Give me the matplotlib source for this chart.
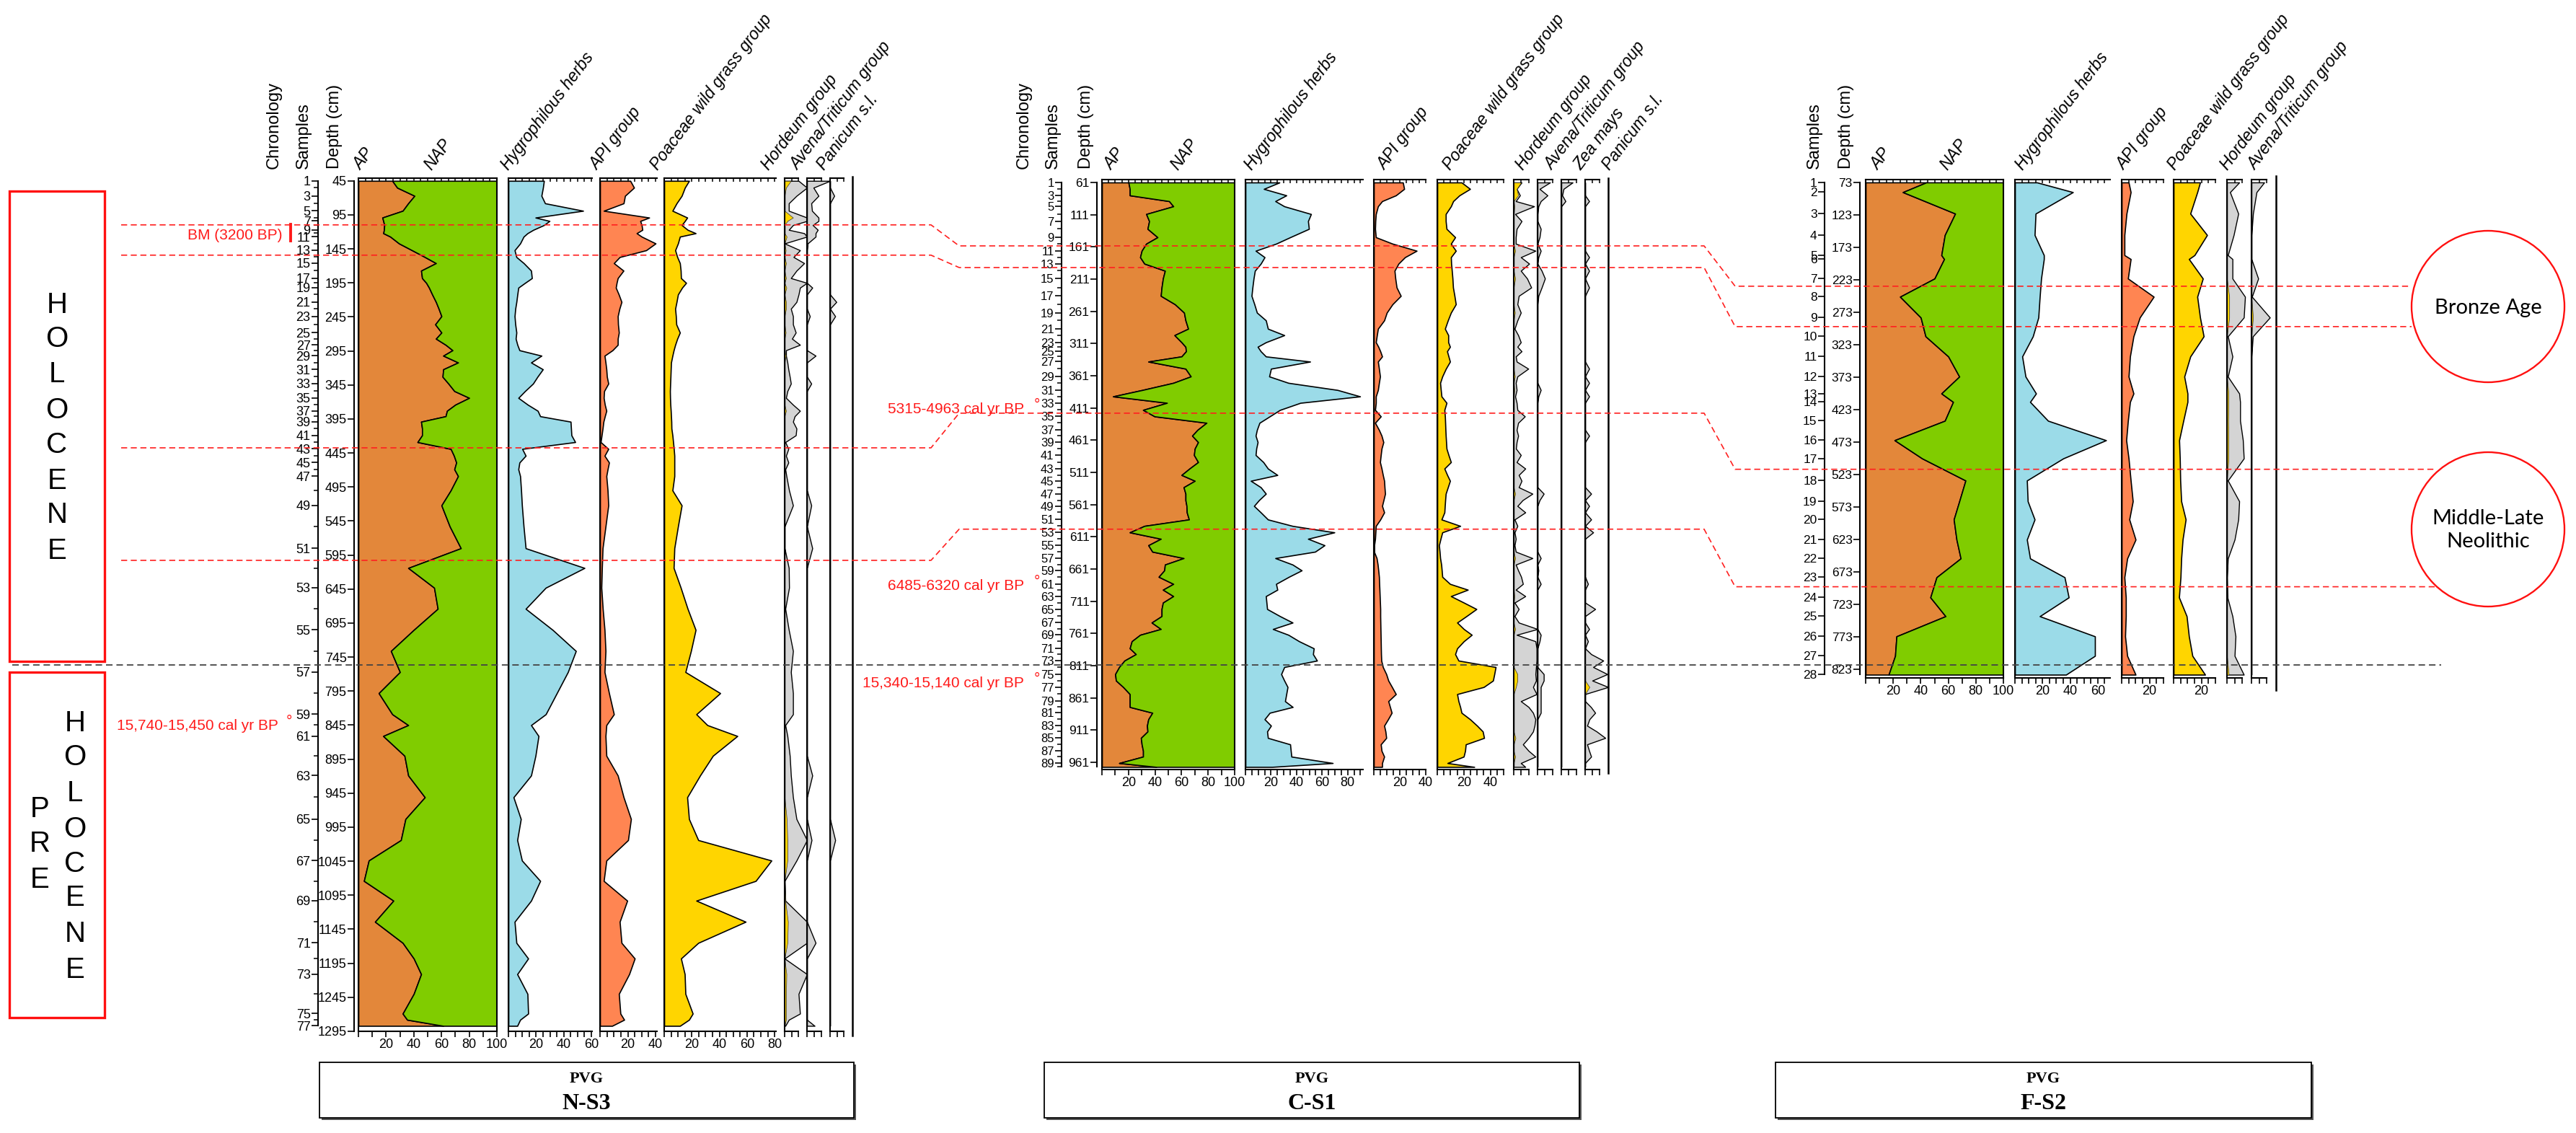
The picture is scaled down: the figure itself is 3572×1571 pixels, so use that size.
import numpy as np
import matplotlib
matplotlib.use("Agg")
import matplotlib.pyplot as plt
from matplotlib.patches import Rectangle, Ellipse

plt.rcParams['font.family'] = ['Liberation Sans', 'DejaVu Sans']

W, H = 3572, 1571

# ============================ DATA ============================
# ---------- N-S3 ----------
ns3_samples = list(range(1, 78))
ns3_depth = [45, 55, 67, 78, 89, 99, 104, 110, 117, 122,
             127, 137, 147, 157, 166, 177, 188, 195, 202, 212,
             223, 233, 244, 256, 268, 277, 286, 294, 302, 312,
             322, 333, 343, 354, 364, 374, 383, 391, 399, 409,
             419, 429, 439, 449, 459, 469, 479, 500, 522, 553,
             585, 614, 643, 674, 705, 736, 767, 798, 829, 845,
             861, 890, 919, 951, 983, 1014, 1044, 1074, 1103, 1134,
             1165, 1188, 1211, 1240, 1269, 1278, 1287]
ns3_depth_ticks = [45, 95, 145, 195, 245, 295, 345, 395, 445, 495, 545, 595, 645,
                   695, 745, 795, 845, 895, 945, 995, 1045, 1095, 1145, 1195, 1245, 1295]
ns3_ap = [24.5, 28, 40.5, 36, 32, 17.3, 18, 18.7, 18.5, 18,
          23, 29.3, 38.7, 48, 56, 45.3, 46, 49, 51, 53.3,
          56, 58, 60, 55.5, 60, 56, 63, 68, 61.3, 72,
          61.3, 60.8, 65, 69.3, 80, 70, 64, 63, 45.3, 46,
          46, 42.7, 66.7, 69, 70.7, 69.3, 72, 66.7, 60, 66,
          74, 36, 54.7, 57.3, 40, 23.5, 30, 14.7, 24.5, 36,
          17.9, 33.3, 36, 48, 34, 30.7, 7.5, 4, 25.3, 12,
          32, 40, 45.3, 40, 32, 35.2, 61.3]
ns3_hyg = [25.7, 25, 23.9, 26.5, 54, 19.6, 29.7, 25.7, 18, 13.8,
           11, 8.5, 4.5, 5.8, 11.1, 16.4, 17, 12, 7.2, 6.5,
           5.8, 5, 4.5, 5, 5.8, 5.3, 6.5, 8, 23.9, 16.4,
           24.9, 21, 17.8, 12, 7.2, 14, 21.2, 23, 45, 45.3,
           45.6, 48.3, 10, 12.5, 8, 7.2, 8.5, 9.2, 9.8, 11,
           12.5, 55, 27, 12.5, 32, 48.8, 43, 35, 27, 16.4,
           21.8, 19.6, 16.4, 3.7, 9, 6.4, 9.8, 23, 16.4, 4.5,
           5.8, 14.3, 6.4, 13.8, 14.3, 8.5, 6.4]
ns3_api = [21.8, 24.5, 18, 17, 2.7, 35.4, 29, 30, 30.5, 26.4,
           30, 40, 33.2, 14.2, 10, 16.9, 12.8, 12, 11.4, 13.5,
           15.5, 14, 12.8, 13, 13.6, 12.8, 12.8, 9, 3.3, 4,
           4.6, 5, 6, 3, 2.7, 3.5, 4.6, 3.5, 2.5, 1.9,
           1.2, 0.5, 6, 3.3, 6.5, 5.5, 4.6, 5.5, 6, 4,
           1.9, 1.4, 1, 2, 3.3, 4, 3.3, 6.5, 10, 4.6,
           4, 4.6, 12.8, 17, 22.3, 20.2, 4.6, 2.7, 19.6, 14.2,
           15.5, 25, 21, 13.6, 14.7, 17.4, 8.7]
ns3_poa = [18, 15, 12.7, 9, 6, 16.7, 15, 12.7, 17, 22.8,
           11.4, 10, 8, 9.5, 11.4, 12, 12.2, 15.9, 13, 10,
           9, 8, 8.5, 8.8, 11.4, 9.5, 8, 6.9, 6, 5,
           4.8, 4.6, 4.4, 4.2, 4.3, 4.5, 4.8, 5, 5.2, 5.3,
           6, 6.5, 7, 7.4, 7.4, 7.4, 7.4, 6, 12.7, 10,
           7.4, 6.9, 12, 17, 22.8, 19.4, 15.4, 40.6, 23.3, 31.3,
           53, 35.3, 26, 16.7, 18, 24.7, 77.7, 66.3, 23.3, 59,
           24.7, 12.2, 14.9, 15.4, 20.7, 18, 11.4]
# cereal columns: grey = exaggerated curve, yellow = real values
ns3_hord = [10, 16, 8.5, 3, 3, 16, 16, 6, 3, 14,
            16, 0, 11, 6.4, 14, 8.5, 4.5, 16, 11, 10,
            8.5, 4.5, 6, 6, 8, 5.3, 11, 1, 1, 2,
            2.7, 3.7, 4.5, 2, 1, 6, 11, 7.2, 6, 8.5,
            8, 0.5, 2.7, 1, 2.7, 0.5, 1.3, 3.2, 6, 0,
            0, 3, 3.2, 0.5, 3, 6, 4.5, 6, 6, 0.5,
            2, 3.7, 4.5, 6, 8.5, 16, 8.5, 0, 0.5, 16,
            16, 0, 16, 10, 11, 3, 0.5]
ns3_hord_y = [4.5, 1, 0, 0, 0, 6, 2, 0, 0, 0,
              1.5, 0, 0.8, 0, 1, 0, 1, 0, 1.3, 0,
              1, 1, 0, 0, 0.8, 0, 0, 0, 0.8, 0,
              0, 0, 0, 0, 0, 0, 1, 0, 0, 0,
              0, 0, 0, 0, 0, 0, 0, 0, 0, 0,
              0, 0, 0, 0, 0, 0, 0, 0, 0, 0,
              0, 0, 0, 0, 1.5, 2, 2, 0, 0.5, 2.4,
              2, 0, 1.3, 1, 1, 1, 0]
ns3_aven = [16, 4.5, 8, 3, 3.5, 8, 8, 4, 7.5, 6,
            6, 0.5, 0, 0, 0, 0, 0, 0, 3.7, 0,
            0, 0, 2, 0, 0, 0, 0, 0, 6, 0,
            0, 0, 3, 0, 0, 0, 0, 0, 0, 0,
            0, 0, 0, 0, 0, 0, 0, 0, 3, 0,
            3.7, 0, 0, 0, 0, 0, 0, 0, 0, 0,
            0, 0, 3.7, 0, 0, 3.2, 0, 0, 0, 0,
            6, 0, 0, 0, 0, 0, 5.3]
ns3_pan = [0, 0, 3, 0, 0, 0, 0, 0, 0, 0,
           0, 0, 0, 0, 0, 0, 0, 0, 0, 0,
           4.5, 0, 3.7, 0, 0, 0, 0, 0, 0, 0,
           0, 0, 0, 0, 0, 0, 0, 0, 0, 0,
           0, 0, 0, 0, 0, 0, 0, 0, 0, 0,
           0, 0, 0, 0, 0, 0, 0, 0, 0, 0,
           0, 0, 0, 0, 0, 3.7, 0, 0, 0, 0,
           0, 0, 0, 0, 0, 0, 0]

# ---------- C-S1 ----------
cs1_samples = list(range(1, 91))
cs1_depth = [61, 71, 81, 90, 98, 110, 121, 133, 146, 156,
             167, 177, 187, 198, 210, 224, 237, 250, 263, 275,
             288, 298, 309, 316, 323, 331, 339, 350, 362, 372,
             383, 393, 403, 414, 424, 434, 445, 454, 464, 474,
             484, 495, 505, 515, 524, 534, 544, 554, 563, 573,
             584, 594, 604, 614, 624, 634, 644, 654, 663, 673,
             684, 693, 703, 713, 723, 734, 744, 754, 763, 773,
             784, 793, 803, 813, 824, 834, 844, 855, 866, 875,
             884, 894, 904, 913, 923, 933, 943, 952, 962, 968]
cs1_depth_ticks = [61, 111, 161, 211, 261, 311, 361, 411, 461, 511, 561, 611,
                   661, 711, 761, 811, 861, 911, 961]
cs1_ap = [20, 21, 21, 50.6, 53.8, 33.4, 35.6, 34.4, 41.9, 33.4,
          30, 28.8, 32, 47.5, 46, 45, 44.4, 55, 61.9, 63,
          65, 54.7, 60, 63, 63.4, 60, 35, 63, 67, 53.8,
          30.6, 8.4, 49, 31, 39.7, 78.8, 72, 68, 72.5, 70,
          69.4, 72.5, 66, 60, 70, 61.6, 63, 63, 63.8, 64,
          65.6, 32, 21, 44.4, 35, 38, 61.6, 47.5, 47, 42.8,
          53.8, 46, 53.8, 46, 45, 45, 37.5, 44.4, 28.8, 22.5,
          21, 25.6, 17, 13, 10, 10.6, 16, 21, 21, 21,
          38, 35, 34, 34.4, 29.4, 30, 31, 31, 13, 41]
cs1_hyg = [26.6, 14.4, 32, 23.4, 30.4, 51.3, 49, 49.7, 35, 24,
           8, 15, 12, 7.4, 6.4, 5.5, 4.8, 7, 9, 16,
           17.6, 30.4, 16, 9.6, 12, 16, 50.6, 20, 18.6, 33.6,
           72, 89.7, 43, 27, 19, 11, 9, 8, 9.6, 8.5,
           8, 14, 17.6, 25, 4.2, 12, 16, 10.6, 6.7, 12,
           17.6, 36.9, 69.6, 49, 61.9, 54.5, 23.4, 36.9, 44, 34,
           24, 25, 16, 16.5, 17, 27, 36.9, 21.5, 33.6, 42,
           53.5, 52.9, 56, 30.4, 28, 30.4, 33, 32, 31, 37,
           19, 15, 20, 17, 17.6, 35, 35.5, 36, 68.3, 20.8]
cs1_api = [22.4, 23.4, 17, 6.4, 3.2, 1.6, 1.2, 1, 1.6, 14.4,
           33, 24, 19, 16, 16.6, 17.6, 20.8, 14.4, 10, 8,
           3.2, 2.4, 1.6, 3.5, 5, 6.4, 3.2, 4, 4.8, 4,
           3.2, 1.6, 1.6, 1, 5.4, 1, 4, 6, 7.4, 6,
           5.4, 4.8, 6, 7, 8, 8.3, 8.7, 7.5, 6.4, 8,
           5, 1.6, 1.3, 1, 0.3, 0.2, 2.2, 3, 3.5, 4,
           4.2, 4.4, 4.6, 4.8, 5, 5, 5.1, 5.2, 5.3, 5.4,
           5.5, 5.6, 5.8, 7, 9.6, 11.2, 14, 17, 11.2, 12.5,
           13.8, 11, 8, 9, 9.6, 5.4, 6, 8, 6.4, 6.4]
cs1_poa = [18.3, 24.7, 16.7, 12, 10.3, 6.4, 6.4, 7, 13.5, 10.3,
           14, 10.3, 10.5, 11, 11.5, 11.9, 13, 14, 10.3, 8,
           5.8, 8.3, 8.3, 9.6, 7.4, 8.5, 9.6, 6.5, 3.8, 2.2,
           2.7, 3.2, 7, 5.4, 5.8, 6, 6.2, 6.4, 6.7, 7,
           8.5, 10.3, 5.4, 7.5, 9.6, 8, 6.4, 6, 5.7, 5.4,
           3.2, 17.3, 3.8, 2.5, 1.3, 1.8, 2.2, 3, 3.4, 3.8,
           9.6, 23, 10.3, 20, 29.5, 22, 15, 20, 26, 20,
           15, 13.5, 16, 44, 43, 42, 35, 15, 16, 17.3,
           18.3, 24.7, 30, 34.3, 35.3, 21.5, 21, 19.9, 7.7, 27.9]
cs1_hord = [5.3, 2, 4.2, 1.4, 13.7, 1, 5.3, 2, 1.4, 1.4,
            14.6, 4.8, 10.4, 4.8, 9, 11.8, 3.4, 2.5, 4.8, 2.5,
            0.6, 3, 4.8, 2.5, 5.3, 1.4, 2, 9.8, 2.5, 1.4,
            2, 1, 2, 2.5, 7.5, 3, 2, 3, 2, 1.5,
            4.8, 2, 7.8, 3.4, 5.3, 3.4, 12.6, 6, 2.5, 7.8,
            0.6, 2.5, 0.6, 1.4, 0.6, 1.4, 12.6, 1.4, 3, 5,
            6.2, 1.4, 7.8, 0.6, 3.4, 0.6, 3.4, 16, 2, 14.6,
            15.4, 15.4, 15.4, 15, 14.6, 15, 13, 15.4, 4.8, 10,
            13, 14.6, 14, 13, 10, 6.2, 10, 14.6, 4.8, 7.8]
cs1_hord_y = [5, 2, 3, 0, 0.5, 0, 0, 0, 0, 0,
              1, 0, 0, 0, 1, 0, 0, 0, 0.8, 0,
              0, 0, 0, 0, 0, 0, 0, 0, 0.8, 0,
              0.5, 0, 0, 0, 0, 0, 0, 0, 0, 0,
              0, 0, 0, 0, 0, 0, 1, 0, 0, 0,
              0, 0, 0, 0, 0, 0, 1, 0, 0, 0,
              0, 0, 0.5, 0, 0, 0, 0, 1, 0, 0,
              0, 0, 0, 0, 2.5, 2.5, 1.5, 0, 0, 0,
              0, 0, 0, 0, 1.2, 0, 0, 1, 0, 0]
cs1_aven = [8.4, 1.4, 6.7, 2.2, 0.6, 0, 0, 2.2, 1.4, 0,
            2.2, 0.6, 0, 2.8, 5, 2.8, 0.6, 0, 0, 0,
            0, 0, 0, 0, 0, 0, 0, 0, 0, 0,
            2.2, 0.6, 0, 0, 0, 0, 0, 0, 0, 0,
            0, 0, 0, 0, 0, 0, 4.2, 1.4, 0, 0,
            0, 0, 0, 0, 0, 0, 2.2, 0, 0.6, 0,
            2.2, 0, 0, 0, 0, 0, 0, 0, 2.2, 1.4,
            0, 0, 0, 0, 4.2, 4.2, 2.2, 2.2, 2.2, 2.2,
            2.2, 0, 0, 0, 0, 0, 0, 0, 0, 0]
cs1_zea = [7.6, 1.5, 0.6, 2.8, 0, 0, 0, 0, 0, 0,
           0, 0, 0, 0, 0, 0, 0, 0, 0, 0,
           0, 0, 0, 0, 0, 0, 0, 0, 0, 0,
           0, 0, 0, 0, 0, 0, 0, 0, 0, 0,
           0, 0, 0, 0, 0, 0, 0, 0, 0, 0,
           0, 0, 0, 0, 0, 0, 0, 0, 0, 0,
           0, 0, 0, 0, 0, 0, 0, 0, 0, 0,
           0, 0, 0, 0, 0, 0, 0, 0, 0, 0,
           0, 0, 0, 0, 0, 0, 0, 0, 0, 0]
cs1_pan = [0, 0, 0, 2.8, 0, 0, 0, 0, 0, 0,
           0, 2.8, 0, 2.8, 0, 2.8, 0, 0, 0, 0,
           0, 0, 0, 0, 0, 0, 0, 2.8, 0, 2.8,
           0, 2.8, 0, 0, 0, 0, 0, 2.8, 0, 0,
           0, 0, 0, 0, 0, 0, 4.2, 0, 2.8, 0,
           4.2, 0, 5.6, 0, 0, 0, 0, 0, 0, 0,
           2, 0, 0, 0, 7, 0, 0, 2.8, 0, 2,
           0, 4.2, 12.6, 5.6, 15.4, 5, 16, 0, 0, 4,
           7, 3, 1.4, 8, 14, 1.4, 2.8, 4.2, 0, 0]
cs1_pan_y = [0, 0, 0, 0, 0, 0, 0, 0, 0, 0,
             0, 0, 0, 0, 0, 0, 0, 0, 0, 0,
             0, 0, 0, 0, 0, 0, 0, 0, 0, 0,
             0, 0, 0, 0, 0, 0, 0, 0, 0, 0,
             0, 0, 0, 0, 0, 0, 0, 0, 0, 0,
             0, 0, 0, 0, 0, 0, 0, 0, 0, 0,
             0, 0, 0, 0, 0, 0, 0, 0, 0, 0,
             0, 0, 0, 0, 0, 0, 3, 0, 0, 0,
             0, 0, 0, 0, 0, 0, 0, 0, 0, 0]

# ---------- F-S2 ----------
fs2_samples = list(range(1, 29))
fs2_depth = [73, 88, 121, 154, 185, 191, 221, 249, 281, 310,
             341, 372, 398, 411, 440, 470, 498, 532, 564, 592,
             623, 652, 681, 712, 741, 772, 802, 831]
fs2_depth_ticks = [73, 123, 173, 223, 273, 323, 373, 423, 473, 523, 573, 623, 673, 723, 773, 823]
fs2_ap = [44, 27, 65, 57.5, 55, 57, 50, 25, 40, 43.5,
          60, 68, 55, 63.5, 57.5, 21, 41, 72.5, 68, 64,
          66, 69, 51.5, 47, 58, 22.4, 21.4, 16.7]
fs2_hyg = [16, 42, 15, 14.3, 21, 21, 19, 18, 17, 13,
           5.3, 7.7, 15.3, 11, 24, 66, 35, 8.7, 9.3, 14.3,
           8.7, 11, 36, 39, 18, 58, 58, 37]
fs2_api = [5, 6.5, 3.5, 2, 2, 6.5, 4.5, 23, 13, 8.5,
           6, 5, 8.5, 6, 4.5, 3.3, 5, 6.5, 8, 5.5,
           10, 4, 2, 3, 3, 2.5, 4, 10]
fs2_poa = [19, 17, 12, 24, 15, 11, 21, 17, 19, 21.6,
           12, 7.7, 10, 10, 7, 4, 4.5, 4.8, 5.5, 8.7,
           6.5, 5.5, 5, 3.9, 9.4, 11, 13.5, 22.6]
fs2_hord = [8, 2, 7.4, 4.4, 0.6, 3.6, 3.6, 11.8, 11, 0.6,
            3.6, 0.6, 8, 8.6, 8.6, 10.4, 11, 0.6, 8, 7.4,
            5, 0.6, 0, 0.3, 3.6, 5.6, 5, 11]
fs2_hord_y = [0, 0, 0, 0, 0, 0, 0, 1.5, 1.5, 0,
              0, 0, 1, 1, 0.8, 1, 1, 0, 0, 0,
              0, 0, 0, 0, 0, 0, 0, 1.2]
fs2_aven = [8.3, 3.3, 1, 0, 0, 0, 4.4, 0.3, 12, 0.9,
            0, 0, 0, 0, 0, 0, 0, 0, 0, 0,
            0, 0, 0, 0, 0, 0, 0, 0]
fs2_aven_y = [0, 0, 0, 0, 0, 0, 0, 0, 1, 0,
              0, 0, 0, 0, 0, 0, 0, 0, 0, 0,
              0, 0, 0, 0, 0, 0, 0, 0]

# correlation lines (depth in each core) and annotations
red_ns3 = [109.7, 154.2, 437.4, 602.8]
red_cs1 = [159.4, 193.0, 419.0, 599.0]
red_fs2 = [232.8, 295.0, 514.7, 695.6]
black_ns3 = 756.6

# ============================ STYLE ============================
C_AP = '#E3873A'
C_NAP = '#80CC00'
C_HYG = '#9BDBE8'
C_API = '#FF8552'
C_POA = '#FFD500'
C_CER = '#D4D4D4'
RED = '#FF1A1A'

P_NS3 = dict(ytop=247, ybot=1430, dtop=41.0, dbot=1295.0)
P_CS1 = dict(ytop=249, ybot=1067, dtop=56.5, dbot=972.0)
P_FS2 = dict(ytop=249, ybot=940, dtop=68.6, dbot=836.0)

SPINE_LW = 1.5
EDGE_LW = 1.2

fig = plt.figure(figsize=(W / 100, H / 100), dpi=100)
fig.patch.set_facecolor('white')


def box(x0, y0, x1, y1):
    return [x0 / W, 1 - y1 / H, (x1 - x0) / W, (y1 - y0) / H]


def ypx(P, d):
    return P['ytop'] + (d - P['dtop']) / (P['dbot'] - P['dtop']) * (P['ybot'] - P['ytop'])


def col_axes(P, x0, x1, xmax, top_ticks, bot_ticks, bot_labels, right=False, span=None):
    ax = fig.add_axes(box(x0, P['ytop'], x1, P['ybot']))
    ax.set_xlim(0, xmax)
    ax.set_ylim(P['dbot'], P['dtop'])
    ax.patch.set_visible(False)
    ax.spines['right'].set_visible(right)
    for s in ax.spines.values():
        s.set_linewidth(SPINE_LW)
    if span is not None:
        ax.spines['top'].set_bounds(0, span)
        ax.spines['bottom'].set_bounds(0, span)
    ax.set_yticks([])
    ax.set_xticks(bot_ticks)
    ax.set_xticklabels([('%g' % t) if t in bot_labels else '' for t in bot_ticks])
    ax.tick_params(axis='x', direction='out', length=5.5, width=1.2, labelsize=13, pad=2)
    dy = 4.5 / (P['ybot'] - P['ytop'])
    ax.vlines(top_ticks, 1 - dy, 1, transform=ax.get_xaxis_transform(),
              colors='black', lw=1.1, clip_on=False)
    return ax


def draw_ap(P, x0, x1, depth, ap):
    ax = col_axes(P, x0, x1, 100, np.arange(0, 101, 5), np.arange(0, 101, 10),
                  [20, 40, 60, 80, 100], right=True)
    ax.fill_betweenx(depth, 0, ap, facecolor=C_AP, edgecolor='black', lw=EDGE_LW)
    ax.fill_betweenx(depth, ap, 100, facecolor=C_NAP, edgecolor='black', lw=EDGE_LW)


def draw_curve(P, x0, x1, xmax, tmax, depth, vals, color, labels):
    t = np.arange(0, tmax + 0.01, 5)
    ax = col_axes(P, x0, x1, xmax, t, t, labels)
    ax.fill_betweenx(depth, 0, vals, facecolor=color, edgecolor='black', lw=EDGE_LW)


def draw_thin(P, x0, x1, depth, grey, yellow=None):
    ax = col_axes(P, x0, x1, 16, [0, 5, 10], [0, 5, 10], [], span=10)
    ax.fill_betweenx(depth, 0, grey, facecolor=C_CER, edgecolor='black', lw=1.0)
    if yellow is not None:
        ax.fill_betweenx(depth, 0, yellow, facecolor=C_POA, edgecolor='#333333', lw=0.5)


def y_axis(P, x, ticks, labels, minor=None, fs=12, bounds=None):
    ax = fig.add_axes(box(x, P['ytop'], x + 2, P['ybot']))
    ax.set_ylim(P['dbot'], P['dtop'])
    ax.set_xlim(0, 1)
    ax.patch.set_visible(False)
    for s in ['top', 'right', 'bottom']:
        ax.spines[s].set_visible(False)
    ax.spines['left'].set_linewidth(SPINE_LW)
    if bounds is not None:
        ax.spines['left'].set_bounds(*bounds)
    ax.set_xticks([])
    ax.set_yticks(ticks)
    ax.set_yticklabels(labels)
    if minor is not None:
        ax.set_yticks(minor, minor=True)
    ax.tick_params(axis='y', which='major', direction='out', length=6.5, width=1.2,
                   labelsize=fs, pad=1)
    ax.tick_params(axis='y', which='minor', direction='out', length=4, width=1.1)


# ============================ N-S3 ============================
odd = [i for i, s in enumerate(ns3_samples) if s % 2 == 1]
even = [i for i, s in enumerate(ns3_samples) if s % 2 == 0]
y_axis(P_NS3, 441, [ns3_depth[i] for i in odd], [str(ns3_samples[i]) for i in odd],
       minor=[ns3_depth[i] for i in even], fs=13, bounds=(ns3_depth[0], ns3_depth[-1]))
y_axis(P_NS3, 491, ns3_depth_ticks, [str(d) for d in ns3_depth_ticks], fs=13,
       bounds=(ns3_depth_ticks[0], ns3_depth_ticks[-1]))
draw_ap(P_NS3, 497, 689, ns3_depth, ns3_ap)
draw_curve(P_NS3, 705, 821, 60.5, 60, ns3_depth, ns3_hyg, C_HYG, [20, 40, 60])
draw_curve(P_NS3, 832, 911, 41, 40, ns3_depth, ns3_api, C_API, [20, 40])
draw_curve(P_NS3, 921, 1076, 81, 80, ns3_depth, ns3_poa, C_POA, [20, 40, 60, 80])
draw_thin(P_NS3, 1088, 1119, ns3_depth, ns3_hord, ns3_hord_y)
draw_thin(P_NS3, 1119, 1151, ns3_depth, ns3_aven)
draw_thin(P_NS3, 1151, 1182, ns3_depth, ns3_pan)

# ============================ C-S1 ============================
odd = [i for i, s in enumerate(cs1_samples) if s % 2 == 1]
even = [i for i, s in enumerate(cs1_samples) if s % 2 == 0]
y_axis(P_CS1, 1472, [cs1_depth[i] for i in odd], [str(cs1_samples[i]) for i in odd],
       minor=[cs1_depth[i] for i in even], fs=12, bounds=(cs1_depth[0], cs1_depth[-1]))
y_axis(P_CS1, 1521, cs1_depth_ticks, [str(d) for d in cs1_depth_ticks], fs=12.5,
       bounds=(cs1_depth_ticks[0], cs1_depth[-1]))
draw_ap(P_CS1, 1528, 1712, cs1_depth, cs1_ap)
draw_curve(P_CS1, 1727, 1890, 92, 90, cs1_depth, cs1_hyg, C_HYG, [20, 40, 60, 80])
draw_curve(P_CS1, 1905, 1977, 40, 40, cs1_depth, cs1_api, C_API, [20, 40])
draw_curve(P_CS1, 1993, 2085, 50, 50, cs1_depth, cs1_poa, C_POA, [20, 40])
draw_thin(P_CS1, 2099, 2132, cs1_depth, cs1_hord, cs1_hord_y)
draw_thin(P_CS1, 2132, 2165, cs1_depth, cs1_aven)
draw_thin(P_CS1, 2165, 2198, cs1_depth, cs1_zea)
draw_thin(P_CS1, 2198, 2230, cs1_depth, cs1_pan, cs1_pan_y)

# ============================ F-S2 ============================
y_axis(P_FS2, 2530, fs2_depth, [str(s) for s in fs2_samples], fs=12.5,
       bounds=(fs2_depth[0], fs2_depth[-1]))
y_axis(P_FS2, 2579, fs2_depth_ticks, [str(d) for d in fs2_depth_ticks], fs=12.5,
       bounds=(fs2_depth_ticks[0], fs2_depth[-1]))
draw_ap(P_FS2, 2587, 2778, fs2_depth, fs2_ap)
draw_curve(P_FS2, 2794, 2926, 69, 65, fs2_depth, fs2_hyg, C_HYG, [20, 40, 60])
draw_curve(P_FS2, 2942, 3000, 30, 30, fs2_depth, fs2_api, C_API, [20])
draw_curve(P_FS2, 3014, 3072, 30, 30, fs2_depth, fs2_poa, C_POA, [20])
draw_thin(P_FS2, 3088, 3122, fs2_depth, fs2_hord, fs2_hord_y)
draw_thin(P_FS2, 3122, 3156, fs2_depth, fs2_aven, fs2_aven_y)

# ============================ OVERLAY ============================
ov = fig.add_axes([0, 0, 1, 1], zorder=20)
ov.set_xlim(0, W)
ov.set_ylim(H, 0)
ov.axis('off')

# panel closing lines
ov.plot([1182, 1182], [245, 1436], color='black', lw=1.8)
ov.plot([2230, 2230], [247, 1072], color='black', lw=1.8)
ov.plot([3156, 3156], [244, 957], color='black', lw=1.8)

# header labels
hdr = dict(fontsize=17, rotation=90, ha='center', va='bottom')
for x, t in [(380, 'Chronology'), (421, 'Samples'), (464, 'Depth (cm)'),
             (1420, 'Chronology'), (1460, 'Samples'), (1506, 'Depth (cm)'),
             (2516, 'Samples'), (2560, 'Depth (cm)')]:
    ov.text(x, 234, t, **hdr)

col_lab = dict(fontsize=16.5, rotation=53, rotation_mode='anchor', ha='left',
               va='baseline', style='italic')
for x, t in [(500, 'AP'), (598, 'NAP'), (705, 'Hygrophilous herbs'), (828, 'API group'),
             (912, 'Poaceae wild grass group'), (1066, 'Hordeum group'),
             (1106, 'Avena/Triticum group'), (1143, 'Panicum s.l.'),
             (1541, 'AP'), (1633, 'NAP'), (1736, 'Hygrophilous herbs'), (1920, 'API group'),
             (2011, 'Poaceae wild grass group'), (2112, 'Hordeum group'),
             (2152, 'Avena/Triticum group'), (2192, 'Zea mays'), (2232, 'Panicum s.l.'),
             (2604, 'AP'), (2700, 'NAP'), (2805, 'Hygrophilous herbs'), (2945, 'API group'),
             (3016, 'Poaceae wild grass group'), (3089, 'Hordeum group'),
             (3127, 'Avena/Triticum group')]:
    ov.text(x, 237, t, **col_lab)

# correlation lines
red_end = [3344, 3344, 3379, 3379]
for dn, dc, df, xe in zip(red_ns3, red_cs1, red_fs2, red_end):
    yn, yc, yf = ypx(P_NS3, dn), ypx(P_CS1, dc), ypx(P_FS2, df)
    ov.plot([168, 1291, 1330, 2363, 2406, xe], [yn, yn, yc, yc, yf, yf],
            color='#FF2020', lw=1.2, ls=(0, (5, 3)))
yb = ypx(P_NS3, black_ns3)
ov.plot([17, 3385], [yb, yb], color='#444444', lw=1.3, ls=(0, (5, 3)))

# chronology boxes
ov.add_patch(Rectangle((13, 265), 132, 652, fill=False, edgecolor='#FF1010', lw=2.4))
ov.add_patch(Rectangle((13, 932), 132, 479, fill=False, edgecolor='#FF1010', lw=2.4))
for ch, y in zip('HOLOCENE', [423, 470, 519, 569, 617, 667, 714, 764]):
    ov.text(79, y, ch, fontsize=29, ha='center', va='center')
for ch, y in zip('PRE', [1122, 1170, 1220]):
    ov.text(55, y, ch, fontsize=29, ha='center', va='center')
for ch, y in zip('HOLOCENE', [1003, 1050, 1100, 1150, 1198, 1245, 1295, 1345]):
    ov.text(104, y, ch, fontsize=29, ha='center', va='center')

# red date annotations
rt = dict(color=RED, fontsize=15, va='center', ha='right')
ov.text(391, 326, 'BM (3200 BP)', **rt)
ov.plot([403, 403], [311, 334], color=RED, lw=2.8)
ov.text(386, 1006, '15,740-15,450 cal yr BP', **rt)
ov.text(401, 1000, '°', color=RED, fontsize=15, ha='center', va='center')
for y, t in [(567, '5315-4963 cal yr BP'), (812, '6485-6320 cal yr BP'),
             (947, '15,340-15,140 cal yr BP')]:
    ov.text(1420, y, t, **rt)
    ov.text(1438, y - 6, '°', color=RED, fontsize=15, ha='center', va='center')

# period circles
ov.add_patch(Ellipse((3450, 425), 212, 210, fill=False, edgecolor='#FF1010', lw=1.7))
ov.add_patch(Ellipse((3450, 734), 212, 214, fill=False, edgecolor='#FF1010', lw=1.7))
ov.text(3450, 427, 'Bronze Age', fontsize=21, family='Lato', ha='center', va='center')
ov.text(3450, 735, 'Middle-Late\nNeolithic', fontsize=21, family='Lato', ha='center',
        va='center', linespacing=1.3)

# site boxes
for x0, x1, name in [(443, 1184, 'N-S3'), (1448, 2190, 'C-S1'), (2462, 3205, 'F-S2')]:
    ov.add_patch(Rectangle((x0 + 3, 1476), x1 - x0, 77, facecolor='#555555', edgecolor='none'))
    ov.add_patch(Rectangle((x0, 1473), x1 - x0, 77, facecolor='white', edgecolor='black', lw=1.3))
    cx = (x0 + x1) / 2
    ov.text(cx, 1496, 'PVG', fontsize=16, family='Liberation Serif', weight='bold',
            ha='center', va='center')
    ov.text(cx, 1530, name, fontsize=23, family='Liberation Serif', weight='bold',
            ha='center', va='center')

fig.savefig('out.png', dpi=100, facecolor='white')
